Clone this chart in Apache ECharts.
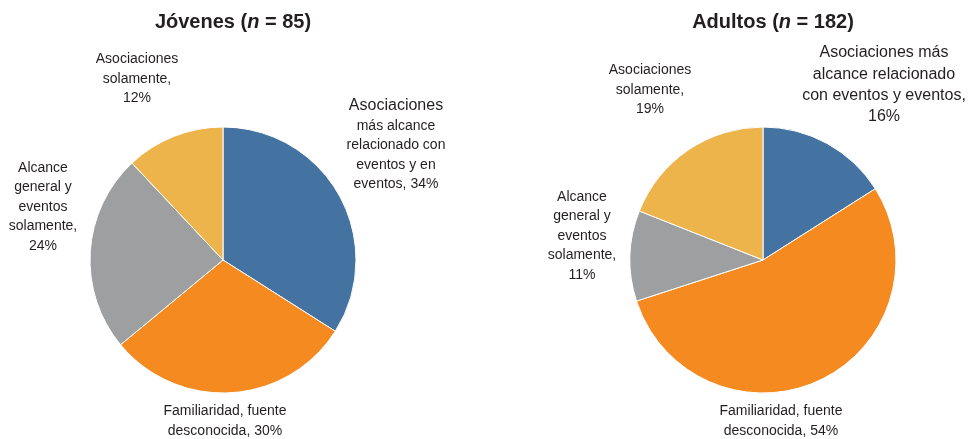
<!DOCTYPE html>
<html>
<head>
<meta charset="utf-8">
<script src="https://cdn.jsdelivr.net/npm/echarts@6/dist/echarts.min.js"></script>
<style>
  html, body { margin: 0; padding: 0; background: #fff; }
  #chart { width: 969px; height: 439px; }
</style>
</head>
<body>
<div id="chart"></div>
<script>
// categories, clockwise from 12 o'clock
const categories = [
  "Asociaciones más alcance relacionado con eventos y en eventos",
  "Familiaridad, fuente desconocida",
  "Alcance general y eventos solamente",
  "Asociaciones solamente",
]
const colors = ["#4473a2", "#f58a20", "#9e9fa1", "#edb44c"]

const jovenesValues = [34, 30, 24, 12]
const adultosValues = [16, 54, 11, 19]

const jovenesLabels = [
  "Asociaciones\nmás alcance\nrelacionado con\neventos y en\neventos, 34%",
  "Familiaridad, fuente\ndesconocida, 30%",
  "Alcance\ngeneral y\neventos\nsolamente,\n24%",
  "Asociaciones\nsolamente,\n12%",
]
const adultosLabels = [
  "Asociaciones más\nalcance relacionado\ncon eventos y eventos,\n16%",
  "Familiaridad, fuente\ndesconocida, 54%",
  "Alcance\ngeneral y\neventos\nsolamente,\n11%",
  "Asociaciones\nsolamente,\n19%",
]

// label block centres [x, y] per slice
const jovenesLabelPos = [[396, 145], [225, 421], [43, 207], [137, 79]]
const adultosLabelPos = [[884, 85], [781, 421], [582, 236], [650, 90]]

const textColor = "#231f20"
const font = "'Liberation Sans', Arial, sans-serif"

const chart = echarts.init(document.getElementById("chart"))

function makePie(values, labels, positions, center, bigFirst) {
  return {
    type: "pie",
    center: center,
    radius: 133,
    startAngle: 90,
    clockwise: true,
    animation: false,
    avoidLabelOverlap: false,
    silent: true,
    itemStyle: { borderColor: "#fff", borderWidth: 1 },
    label: {
      show: true,
      color: textColor,
      fontFamily: font,
      fontSize: 14,
      lineHeight: 19.5,
      align: "center",
      formatter: p => {
        const text = labels[p.dataIndex]
        if (bigFirst && p.dataIndex === 0) {
          const lines = text.split("\n")
          return "{big|" + lines[0] + "}\n" + lines.slice(1).join("\n")
        }
        return text
      },
      rich: {
        big: { fontSize: 16, lineHeight: 20, color: textColor, fontFamily: font },
      },
    },
    labelLine: { show: false },
    labelLayout: p => ({
      x: positions[p.dataIndex][0],
      y: positions[p.dataIndex][1],
      align: "center",
      verticalAlign: "middle",
    }),
    data: values.map((v, i) => ({
      name: categories[i],
      value: v,
      itemStyle: { color: colors[i] },
    })),
  }
}

const titleStyle = {
  rich: {
    b: { fontSize: 20, fontWeight: "bold", color: textColor, fontFamily: font },
    i: { fontSize: 20, fontWeight: "bold", fontStyle: "italic", color: textColor, fontFamily: font },
  },
}

const adultosSeries = makePie(adultosValues, adultosLabels, adultosLabelPos, [763, 260], false)
adultosSeries.data[0].label = { fontSize: 16, lineHeight: 21.3 }

chart.setOption({
  animation: false,
  title: [
    {
      text: "{b|Jóvenes (}{i|n}{b| = 85)}",
      left: 228,
      top: 7,
      textAlign: "center",
      textStyle: titleStyle,
    },
    {
      text: "{b|Adultos (}{i|n}{b| = 182)}",
      left: 768,
      top: 7,
      textAlign: "center",
      textStyle: titleStyle,
    },
  ],
  series: [
    makePie(jovenesValues, jovenesLabels, jovenesLabelPos, [223, 260], true),
    adultosSeries,
  ],
})
</script>
</body>
</html>
